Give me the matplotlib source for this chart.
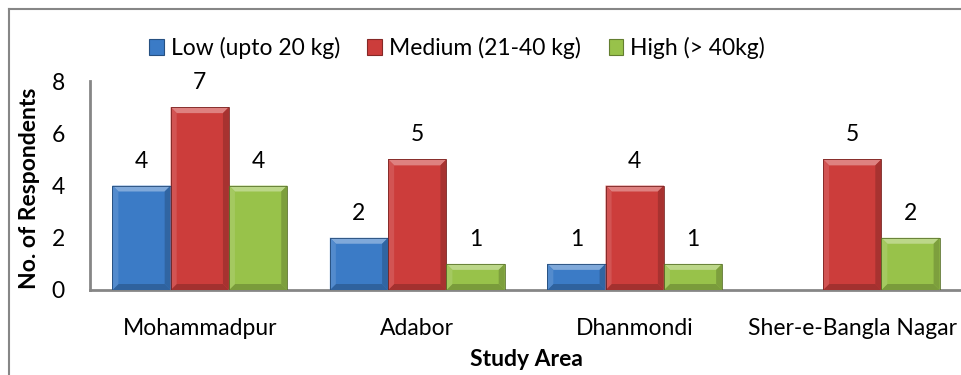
import matplotlib
matplotlib.use('Agg')
import matplotlib.pyplot as plt
import numpy as np
from matplotlib.patches import Patch, Polygon
from matplotlib.lines import Line2D
from matplotlib import colors as mcolors

plt.rcParams['font.family'] = ['Lato', 'DejaVu Sans']

# --- data ---
areas = ["Mohammadpur", "Adabor", "Dhanmondi", "Sher-e-Bangla Nagar"]
series_names = ["Low (upto 20 kg)", "Medium (21-40 kg)", "High (> 40kg)"]
low = [4, 2, 1, 0]
medium = [7, 5, 4, 5]
high = [4, 1, 1, 2]
yticks = [0, 2, 4, 6, 8]

series_colors = ["#3b7bc6", "#cc3d3b", "#98c24a"]
AXIS_GRAY = "#868686"
FS = 16.5


def shade(color, f):
    # f > 0 lightens toward white, f < 0 darkens toward black
    r, g, b = mcolors.to_rgb(color)
    if f >= 0:
        return (r + (1 - r) * f, g + (1 - g) * f, b + (1 - b) * f)
    return (r * (1 + f), g * (1 + f), b * (1 + f))


def bevel_bar(ax, patch, color, px=6):
    # soft bevelled edges on a bar, sized in screen pixels
    x0, y0 = patch.get_x(), patch.get_y()
    w, h = patch.get_width(), patch.get_height()
    if h <= 0:
        return
    inv = ax.transData.inverted()
    p0 = ax.transData.transform((x0, y0))
    dx = inv.transform(p0 + np.array([px, 0]))[0] - x0
    dy = inv.transform(p0 + np.array([0, px]))[1] - y0
    dy = min(dy, h / 2)
    x1, y1 = x0 + w, y0 + h
    faces = [
        ([(x0, y1), (x1, y1), (x1 - dx, y1 - dy), (x0 + dx, y1 - dy)], shade(color, 0.35)),
        ([(x0, y0), (x1, y0), (x1 - dx, y0 + dy), (x0 + dx, y0 + dy)], shade(color, -0.2)),
        ([(x0, y0), (x0, y1), (x0 + dx, y1 - dy), (x0 + dx, y0 + dy)], shade(color, 0.12)),
        ([(x1, y0), (x1, y1), (x1 - dx, y1 - dy), (x1 - dx, y0 + dy)], shade(color, -0.18)),
    ]
    for pts, c in faces:
        ax.add_patch(Polygon(pts, closed=True, facecolor=c, edgecolor='none', zorder=3))
    ax.add_patch(plt.Rectangle((x0, y0), w, h, fill=False,
                               edgecolor=shade(color, -0.4), lw=0.6, zorder=4))


fig = plt.figure(figsize=(9.62, 3.75), dpi=100)
ax = fig.add_axes([90 / 962, 1 - 290 / 375, 1 - 90 / 962, (290 - 81) / 375])

x = np.arange(len(areas))
width = 0.268
values = [low, medium, high]
ax.set_xlim(-0.505, len(areas) - 0.495)
ax.set_ylim(0, 8)

for i, (vals, name, col) in enumerate(zip(values, series_names, series_colors)):
    bars = ax.bar(x + (i - 1) * width, vals, width, color=col, label=name, zorder=2,
                  linewidth=0)
    for b, v in zip(bars, vals):
        bevel_bar(ax, b, col)
        if v > 0:
            ax.annotate(str(v), (b.get_x() + b.get_width() / 2, v),
                        xytext=(0, 10), textcoords='offset points',
                        ha='center', va='bottom', fontsize=FS)

ax.set_yticks(yticks)
ax.set_xticks(x)
ax.set_xticklabels(areas)
ax.tick_params(axis='both', length=0, labelsize=FS)
ax.tick_params(axis='x', pad=20)
ax.tick_params(axis='y', pad=18)
for side in ['top', 'right']:
    ax.spines[side].set_visible(False)
for side in ['left', 'bottom']:
    ax.spines[side].set_color(AXIS_GRAY)
    ax.spines[side].set_linewidth(2)
ax.patch.set_visible(False)

fig.text(30 / 962, 1 - 188 / 375, "No. of Respondents", rotation=90,
         ha='center', va='center', fontsize=FS, fontweight='bold')
fig.text(526 / 962, 1 - 360 / 375, "Study Area",
         ha='center', va='center', fontsize=FS, fontweight='bold')

handles = [Patch(facecolor=c, edgecolor=shade(c, -0.35), linewidth=0.8) for c in series_colors]
fig.legend(handles, series_names, loc='center', bbox_to_anchor=(457 / 962, 1 - 48 / 375),
           ncol=3, frameon=False, fontsize=FS, handlelength=0.65, handleheight=0.65,
           handletextpad=0.3, columnspacing=1.2)

# outer chart frame
fig.add_artist(Line2D([9 / 962, 9 / 962], [0, 1 - 9 / 375], color=AXIS_GRAY, lw=1.5))
fig.add_artist(Line2D([9 / 962, 1], [1 - 9 / 375, 1 - 9 / 375], color=AXIS_GRAY, lw=1.5))

fig.savefig("out.png", dpi=100)
plt.close(fig)
